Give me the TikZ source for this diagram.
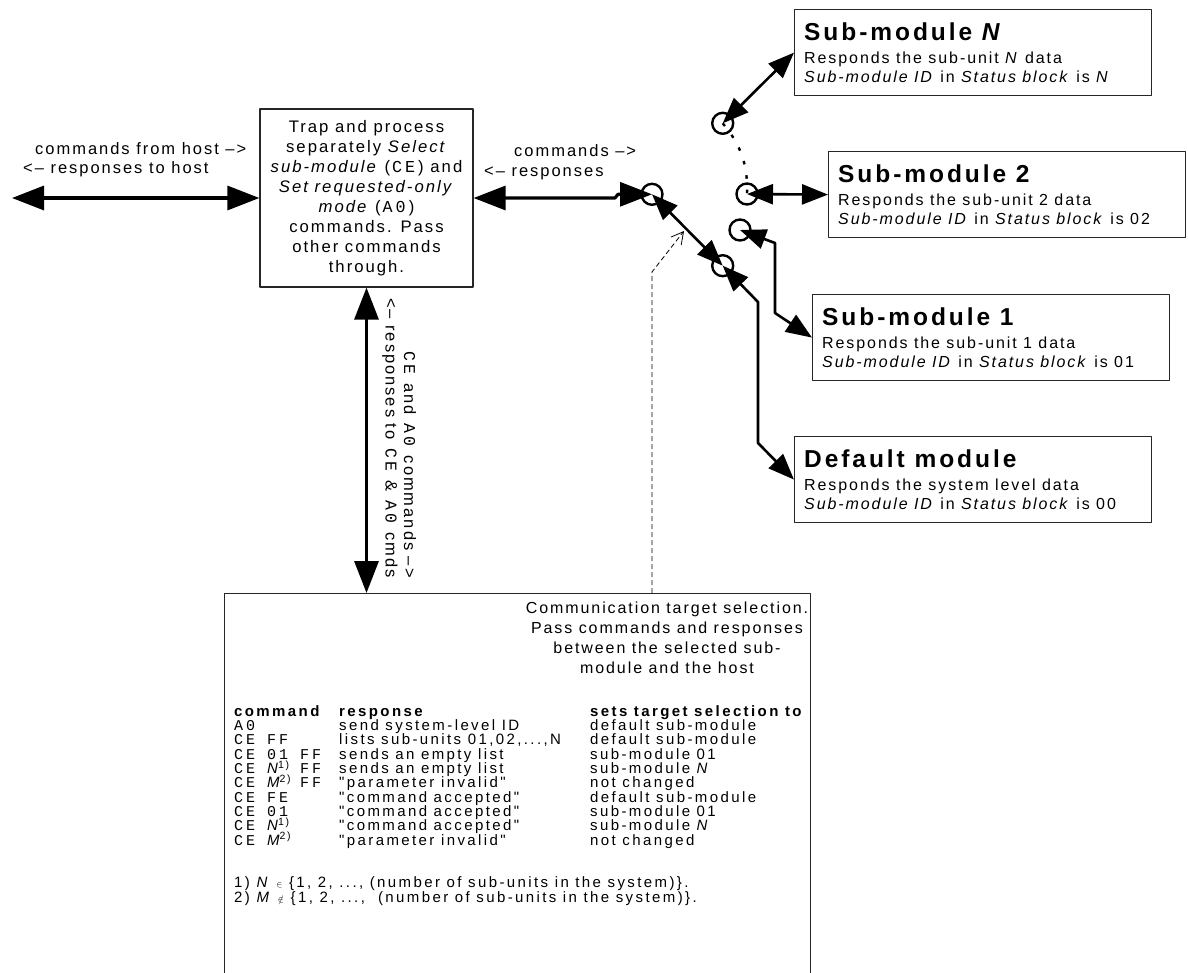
\documentclass[tikz,border=0pt]{standalone}
\usepackage{fontspec}
\setmainfont{Liberation Sans}[LetterSpace=12]
\setmonofont{Liberation Mono}[LetterSpace=18]
\newfontfamily\tabfont{Liberation Sans}[LetterSpace=16]
\newfontfamily\tabmono{Liberation Mono}[LetterSpace=20]
\usetikzlibrary{arrows.meta,calc}
\newcommand\tc[1]{{\tabmono #1}}
\newcommand\tv[2]{{\tabfont\itshape #1}\textsuperscript{\tabfont #2}}
\newcommand\trow[3]{\makebox[105pt][l]{#1}\makebox[251pt][l]{#2}#3}
\newlength\twoch
\begin{document}
\begin{tikzpicture}[x=1pt,y=-1pt,line join=round,
  box/.style={draw=black!85, line width=1.2pt, inner sep=0pt},
  smbox/.style={box, anchor=north west, minimum width=357pt, minimum height=86pt},
  smtitle/.style={anchor=base west, inner sep=0pt, font=\fontsize{24.5}{28}\selectfont\bfseries},
  smline/.style={anchor=base west, inner sep=0pt, font=\fontsize{16}{19}\selectfont},
  lbl/.style={inner sep=0pt, font=\fontsize{16.5}{20}\selectfont},
  trow/.style={anchor=base west, inner sep=0pt, font=\tabfont\fontsize{15}{18}\selectfont\settowidth{\twoch}{\tc{01}}},
  swc/.style={circle, draw, line width=2.4pt, minimum size=21pt, inner sep=0pt},
  bigarr/.style={line width=3.2pt, {Triangle[length=32pt,width=24pt]}-{Triangle[length=32pt,width=24pt]}},
  medarr/.style={line width=2.6pt, {Triangle[length=26pt,width=20pt]}-{Triangle[length=26pt,width=20pt]}},
  pointer/.style={line width=0.8pt, dash pattern=on 5pt off 3pt, -{Straight Barb[length=12pt,width=13pt]}}
]
\useasboundingbox (0,0) rectangle (1188,972);

% main processing box
\node[box, minimum width=213pt, minimum height=178pt, align=center,
      font=\fontsize{16.7}{20}\selectfont] (main) at (366.5,198)
  {Trap and process\\ separately \textit{Select}\\ \textit{sub-module} (\texttt{CE}) and\\
   \textit{Set requested-only}\\ \textit{mode} (\texttt{A0})\\ commands. Pass\\ other commands\\ through.};

% bottom box
\node[box, anchor=north west, minimum width=586pt, minimum height=420pt] (bb) at (224,593) {};

% sub-module boxes
\node[smbox] (smN) at (794,9) {};
\node[smtitle] (smNt) at ($(smN.north west)+(10,31)$) {Sub-module \textit{N}};
\node[smline] (smNa) at ($(smN.north west)+(10,54)$) {Responds the sub-unit \textit{N} data};
\node[smline] (smNb) at ($(smN.north west)+(10,73)$) {\textit{Sub-module ID} in \textit{Status block} is \textit{N}};

\node[smbox] (sm2) at (828,151) {};
\node[smtitle] (sm2t) at ($(sm2.north west)+(10,31)$) {Sub-module 2};
\node[smline] (sm2a) at ($(sm2.north west)+(10,54)$) {Responds the sub-unit 2 data};
\node[smline] (sm2b) at ($(sm2.north west)+(10,73)$) {\textit{Sub-module ID} in \textit{Status block} is 02};

\node[smbox] (sm1) at (812,294) {};
\node[smtitle] (sm1t) at ($(sm1.north west)+(10,31)$) {Sub-module 1};
\node[smline] (sm1a) at ($(sm1.north west)+(10,54)$) {Responds the sub-unit 1 data};
\node[smline] (sm1b) at ($(sm1.north west)+(10,73)$) {\textit{Sub-module ID} in \textit{Status block} is 01};

\node[smbox] (dm) at (794,436) {};
\node[smtitle] (dmt) at ($(dm.north west)+(10,31)$) {Default module};
\node[smline] (dma) at ($(dm.north west)+(10,54)$) {Responds the system level data};
\node[smline] (dmb) at ($(dm.north west)+(10,73)$) {\textit{Sub-module ID} in \textit{Status block} is 00};

% switch contacts
\node[swc] (cA) at (652,194.3) {};
\node[swc] (cB) at (722.7,265.7) {};
\node[swc] (c2) at (747,194) {};
\node[swc] (c1) at (740,230) {};
\node[swc] (cN) at (722.7,123.3) {};

% labels
\node[lbl, anchor=base west] (hl1) at (35,154) {commands from host –>};
\node[lbl, anchor=base west] (hl2) at (23,173) {<– responses to host};
\node[lbl, anchor=base west] (cl1) at (514,156) {commands –>};
\node[lbl, anchor=base west] (cl2) at (484,176) {<– responses};
\node[lbl, rotate=-90, anchor=east] (vl1) at (410,578) {\texttt{CE} and \texttt{A0} commands –>};
\node[lbl, rotate=-90, anchor=east] (vl2) at (390,578) {<– responses to \texttt{CE} \& \texttt{A0} cmds};

% connectors
\coordinate (hostend) at (12,198);
\draw[bigarr] (hostend) -- (main.west);
\draw[bigarr] (main.east) -- (615,198) -- (618,194.3) -- (cA.center);
\draw[bigarr] (main.south) -- (main.south |- bb.north);
\draw[medarr] (cA.center) -- (cB.center);
\draw[medarr] (cB.center) -- (758,302) -- (758,443) -- (dm.west);
\draw[medarr] (c1.center) -- (775,243) -- (775,313) -- (sm1.west);
\draw[medarr] (c2.center) -- (sm2.west);
\draw[medarr] (cN.center) -- (smN.west);
\draw[line width=2.4pt, dash pattern=on 3.5pt off 11pt] (cN.center) .. controls (741,145) and (748,165) .. (c2.center);
\coordinate (dk) at (652,272);
\coordinate (dtip) at (684,231);
\draw[pointer] (bb.north -| dk) -- (dk) -- (dtip);

% bottom box contents
\node[inner sep=0pt, align=center, font=\fontsize{16}{20}\selectfont] (desc) at (667,638)
  {Communication target selection.\\ Pass commands and responses\\ between the selected sub-\\ module and the host};

\node[trow] (t0) at (234,716) {\trow{\textbf{command}}{\textbf{response}}{\textbf{sets target selection to}}};
\node[trow] (t1) at (234,730.3) {\trow{\tc{A0}}{send system-level ID}{default sub-module}};
\node[trow] (t2) at (234,744.7) {\trow{\tc{CE FF}}{lists sub-units 01,02,...,N}{default sub-module}};
\node[trow] (t3) at (234,759) {\trow{\tc{CE 01 FF}}{sends an empty list}{sub-module 01}};
\node[trow] (t4) at (234,773.3) {\trow{\tc{CE }\makebox[\twoch][l]{\tv{N}{1)}}\tc{ FF}}{sends an empty list}{sub-module \textit{N}}};
\node[trow] (t5) at (234,787.7) {\trow{\tc{CE }\makebox[\twoch][l]{\tv{M}{2)}}\tc{ FF}}{"parameter invalid"}{not changed}};
\node[trow] (t6) at (234,802) {\trow{\tc{CE FE}}{"command accepted"}{default sub-module}};
\node[trow] (t7) at (234,816.3) {\trow{\tc{CE 01}}{"command accepted"}{sub-module 01}};
\node[trow] (t8) at (234,830.7) {\trow{\tc{CE }\tv{N}{1)}}{"command accepted"}{sub-module \textit{N}}};
\node[trow] (t9) at (234,845) {\trow{\tc{CE }\tv{M}{2)}}{"parameter invalid"}{not changed}};

\node[trow] (fn1) at (234,887) {1) \textit{N} {\small$\in$} \{1, 2, ..., (number of sub-units in the system)\}.};
\node[trow] (fn2) at (234,902) {2) \textit{M} {\small$\notin$} \{1, 2, ...,\ \ (number of sub-units in the system)\}.};
\end{tikzpicture}
\end{document}
